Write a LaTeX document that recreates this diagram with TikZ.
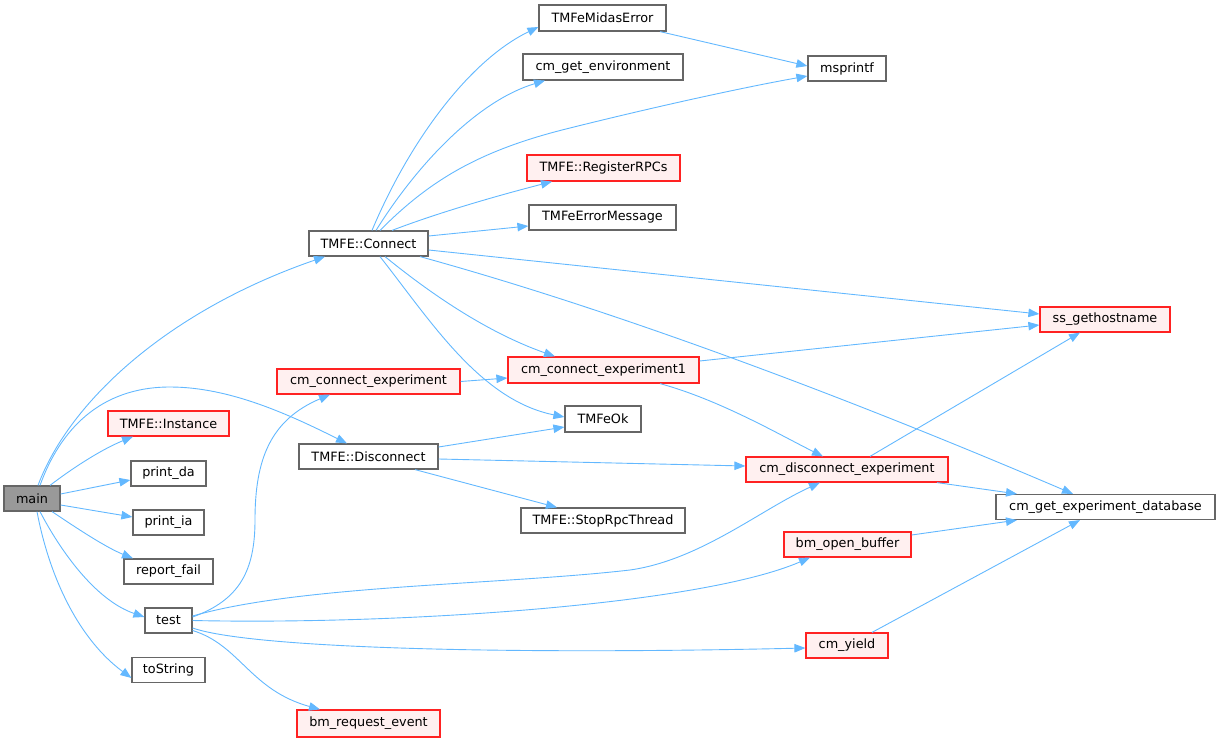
\documentclass[tikz,border=0pt]{standalone}
\usepackage{fontspec}
\setmainfont{DejaVu Sans}
\usetikzlibrary{arrows.meta}
\definecolor{edgeblue}{HTML}{63B8FF}
\definecolor{nodegray}{HTML}{666666}
\definecolor{nodered}{HTML}{FF2222}
\definecolor{nodepink}{HTML}{FFF0F0}
\definecolor{maingray}{HTML}{999999}
\tikzset{
  nb/.style={draw=nodegray, fill=white, line width=1.2pt, minimum height=25pt, inner sep=0pt, font=\fontsize{12.8}{15}\selectfont},
  rb/.style={nb, draw=nodered, fill=nodepink},
  mb/.style={nb, fill=maingray},
  edge/.style={draw=edgeblue, line width=0.9pt, -{Triangle[length=11pt,width=8.5pt]}}
}
\begin{document}
\begin{tikzpicture}[x=1pt,y=-1pt]
\useasboundingbox (0,0) rectangle (1220,741);
% nodes
\node[mb, minimum width=56pt] (main) at (32,498.5) {main};
\node[nb, minimum width=119pt] (connect) at (368.5,243.5) {TMFE::Connect};
\node[rb, minimum width=121pt] (instance) at (168.5,423.5) {TMFE::Instance};
\node[nb, minimum width=75pt] (printda) at (168.5,473.5) {print\_da};
\node[nb, minimum width=71pt] (printia) at (168.5,522.5) {print\_ia};
\node[nb, minimum width=89pt] (reportfail) at (168.5,571.5) {report\_fail};
\node[nb, minimum width=47pt] (test) at (168.5,620.5) {test};
\node[nb, minimum width=73pt] (tostring) at (168.5,670) {toString};
\node[rb, minimum width=143pt, minimum height=27pt] (bmreq) at (368.5,723.5) {bm\_request\_event};
\node[rb, minimum width=183pt] (cce) at (368.5,381.5) {cm\_connect\_experiment};
\node[nb, minimum width=139pt] (disconnect) at (368.5,456.5) {TMFE::Disconnect};
\node[nb, minimum width=127pt, minimum height=26pt] (midaserr) at (602.5,18) {TMFeMidasError};
\node[nb, minimum width=160pt, minimum height=26pt] (getenv) at (603,67) {cm\_get\_environment};
\node[nb, minimum width=78pt] (msprintf) at (847,68.5) {msprintf};
\node[rb, minimum width=153pt, minimum height=26pt] (regrpc) at (603.5,168) {TMFE::RegisterRPCs};
\node[nb, minimum width=147pt] (errmsg) at (602.5,217.5) {TMFeErrorMessage};
\node[rb, minimum width=130pt] (hostname) at (1105,319.5) {ss\_gethostname};
\node[rb, minimum width=191pt, minimum height=26pt] (cce1) at (603.5,370) {cm\_connect\_experiment1};
\node[nb, minimum width=76pt, minimum height=26pt] (feok) at (603,419) {TMFeOk};
\node[rb, minimum width=202pt] (cdis) at (847,469.5) {cm\_disconnect\_experiment};
\node[nb, minimum width=164pt] (stoprpc) at (603,520.5) {TMFE::StopRpcThread};
\node[nb, minimum width=219pt] (expdb) at (1105.5,507) {cm\_get\_experiment\_database};
\node[rb, minimum width=127pt] (openbuf) at (847.5,544.5) {bm\_open\_buffer};
\node[rb, minimum width=82pt] (yield) at (847,645.5) {cm\_yield};
% edges from main
\draw[edge] ([xshift=6pt]main.north) .. controls (70,400) and (170,310) .. ([xshift=-43.5pt]connect.south);
\draw[edge] ([xshift=8pt]main.north) .. controls (60,430) and (100,387) .. (170,387) .. controls (230,387) and (290,415) .. ([xshift=-21.5pt]disconnect.north);
\draw[edge] ([xshift=18pt]main.north) .. controls (70,470) and (100,450) .. ([xshift=-35.5pt]instance.south);
\draw[edge] ([yshift=4.5pt]main.east) -- ([yshift=-6.5pt]printda.west);
\draw[edge] ([yshift=-6.5pt]main.east) -- ([yshift=5.5pt]printia.west);
\draw[edge] ([xshift=20pt]main.south) .. controls (75,527) and (105,547) .. ([xshift=-35.5pt]reportfail.north);
\draw[edge] ([xshift=8pt]main.south) .. controls (60,550) and (95,600) .. ([yshift=3.5pt]test.west);
\draw[edge] ([xshift=5pt]main.south) .. controls (50,580) and (80,640) .. ([yshift=-8pt]tostring.west);
% edges from test
\draw[edge] ([yshift=3.5pt]test.east) .. controls (240,600) and (255,570) .. (255,520) .. controls (255,460) and (270,420) .. ([xshift=-38.5pt]cce.south);
\draw[edge] ([yshift=4.5pt]test.east) .. controls (300,585) and (500,585) .. (630,570) .. controls (700,560) and (760,510) .. ([xshift=-27pt]cdis.south);
\draw[edge] (test.east) .. controls (400,625) and (700,605) .. ([xshift=-37.5pt]openbuf.south);
\draw[edge] ([yshift=-7.5pt]test.east) .. controls (250,648) and (500,655) .. ([yshift=-2.5pt]yield.west);
\draw[edge] ([yshift=-10pt]test.east) .. controls (240,645) and (250,690) .. ([xshift=-48.5pt]bmreq.north);
% cce
\draw[edge] (cce.east) -- ([yshift=-8pt]cce1.west);
% edges from connect
\draw[edge] ([xshift=3.5pt]connect.north) .. controls (410,140) and (470,60) .. ([yshift=-9pt]midaserr.west);
\draw[edge] ([xshift=7.5pt]connect.north) .. controls (420,160) and (480,100) .. ([xshift=-58pt]getenv.south);
\draw[edge] ([xshift=11.5pt]connect.north) .. controls (430,180) and (480,150) .. (570,128) .. controls (650,108) and (740,88) .. ([yshift=-7.5pt]msprintf.west);
\draw[edge] ([xshift=23.5pt]connect.north) .. controls (440,212) and (500,195) .. ([xshift=-51.5pt]regrpc.south);
\draw[edge] ([yshift=7.5pt]connect.east) -- ([yshift=-8.5pt]errmsg.west);
\draw[edge] ([yshift=-6.5pt]connect.east) -- ([yshift=5.5pt]hostname.west);
\draw[edge] ([xshift=51.5pt]connect.south) .. controls (650,320) and (900,420) .. ([xshift=-32.5pt]expdb.north);
\draw[edge] ([xshift=16.5pt]connect.south) .. controls (420,285) and (480,330) .. ([xshift=-48.5pt]cce1.north);
\draw[edge] ([xshift=11.5pt]connect.south) .. controls (430,320) and (480,400) .. ([yshift=2pt]feok.west);
% others
\draw[edge] ([xshift=57.5pt]midaserr.south) -- ([yshift=2.5pt]msprintf.west);
\draw[edge] ([yshift=9pt]cce1.east) -- ([yshift=-5.5pt]hostname.west);
\draw[edge] ([xshift=56.5pt]cce1.south) .. controls (720,400) and (780,435) .. ([xshift=-24pt]cdis.north);
\draw[edge] ([yshift=9.5pt]disconnect.east) -- ([yshift=-8pt]feok.west);
\draw[edge] ([yshift=-2.5pt]disconnect.east) -- ([yshift=3.5pt]cdis.west);
\draw[edge] ([xshift=46.5pt]disconnect.south) -- ([xshift=-46pt]stoprpc.north);
\draw[edge] ([xshift=23pt]cdis.north) -- ([xshift=-25pt]hostname.south);
\draw[edge] ([xshift=90pt]cdis.south) -- ([xshift=-88.5pt]expdb.north);
\draw[edge] ([yshift=9.5pt]openbuf.east) -- ([xshift=-88.5pt]expdb.south);
\draw[edge] ([xshift=25pt]yield.north) -- ([xshift=-25.5pt]expdb.south);
\end{tikzpicture}
\end{document}
